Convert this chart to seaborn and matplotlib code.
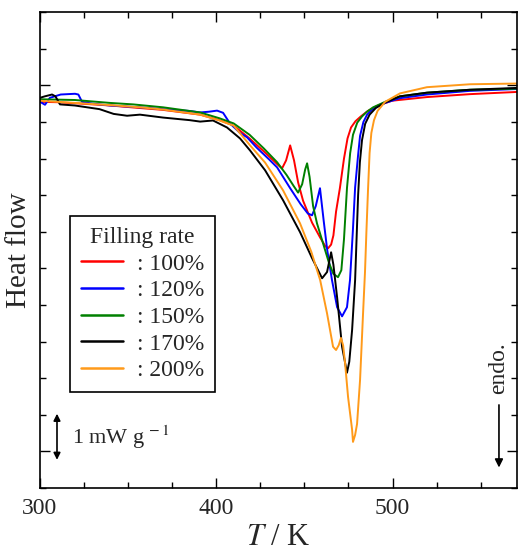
import numpy as np
import pandas as pd
import seaborn as sns
import matplotlib.pyplot as plt
from matplotlib.ticker import MultipleLocator
from matplotlib.lines import Line2D

# DSC traces (T in K, heat flow in arbitrary offset units)
T_100 = [300.3, 310, 324, 340, 357, 370, 391, 402, 410, 419, 427, 434.6, 437.4, 439.7, 442, 444.2,
         446.5, 449.3, 454.4, 458.9, 462, 463.5, 465.2, 466.5, 468, 470.2, 472.5, 474.5, 476.5,
         479, 482, 486, 491.8, 499.7, 519.5, 543.9, 570.5]
HF_100 = [9.55, 9.54, 9.50, 9.45, 9.38, 9.33, 9.20, 9.05, 8.90, 8.55, 8.20, 7.85, 7.73, 7.95, 8.36, 7.95,
          7.35, 6.85, 6.25, 5.85, 5.60, 5.55, 5.65, 5.90, 6.55, 7.20, 8.00, 8.55, 8.85,
          9.02, 9.15, 9.30, 9.45, 9.58, 9.68, 9.76, 9.82]

T_120 = [300.3, 303.1, 305.9, 312, 320.1, 322, 324.1, 330, 340, 357, 370, 385, 391, 396, 400.6, 404,
         407.9, 413.6, 417.6, 423, 430, 434.6, 442, 448, 452, 454.4, 456.5, 458.9, 461, 463, 465.7,
         468.6, 471.4, 474.2, 475.9, 477.5, 478.8, 480.5, 481.6, 483.5, 485.6, 488, 491, 495.8, 504.2,
         519.5, 543.9, 570.5]
HF_120 = [9.55, 9.47, 9.66, 9.75, 9.77, 9.75, 9.55, 9.50, 9.45, 9.40, 9.35, 9.30, 9.26, 9.28, 9.31, 9.25,
          8.96, 8.70, 8.58, 8.30, 7.98, 7.76, 7.19, 6.75, 6.50, 6.45, 6.70, 7.19, 6.30, 5.50, 4.68,
          3.94, 3.69, 3.94, 4.68, 6.00, 7.21, 8.10, 8.62, 9.00, 9.20, 9.32, 9.42, 9.52, 9.65,
          9.75, 9.85, 9.90]

T_150 = [300.3, 320, 340, 353, 370, 391, 402, 410, 419, 427, 434.6, 440, 444, 446.5, 448.8, 450.5,
         451.6, 453, 455, 457.2, 460.6, 464, 466.5, 469.1, 471, 472.5, 474.2, 476, 477.6, 480, 482.7,
         485.5, 489, 495.8, 504.2, 519.5, 543.9, 570.5]
HF_150 = [9.62, 9.60, 9.52, 9.48, 9.40, 9.26, 9.10, 8.96, 8.65, 8.28, 7.90, 7.55, 7.25, 7.07, 7.30, 7.70,
          7.87, 7.50, 6.70, 6.23, 5.69, 5.15, 4.85, 4.76, 4.95, 5.80, 7.20, 8.15, 8.65, 8.98, 9.15,
          9.28, 9.40, 9.55, 9.70, 9.80, 9.88, 9.91]

T_170 = [300.3, 303, 307.1, 309, 311.6, 320, 334, 342, 349.6, 356.9, 370, 385, 391, 398.3, 406.2,
         413.6, 419.3, 427.8, 438, 447.6, 454.4, 460.1, 462.9, 465.2, 466.5, 468.6, 471.4, 474.2,
         475.5, 477.1, 478.8, 480.5, 481.5, 482.7, 484.5, 487, 490.5, 495.8, 504.2, 519.5, 543.9, 570.5]
HF_170 = [9.66, 9.70, 9.75, 9.70, 9.48, 9.45, 9.35, 9.22, 9.17, 9.20, 9.12, 9.05, 9.01, 9.04, 8.85,
          8.55, 8.22, 7.68, 6.86, 5.99, 5.28, 4.73, 4.90, 5.44, 5.10, 4.21, 2.86, 2.15,
          2.45, 3.32, 4.68, 7.00, 7.90, 8.50, 8.95, 9.20, 9.38, 9.53, 9.70, 9.80, 9.88, 9.93]

T_200 = [300.3, 320, 340, 357, 370, 391, 402, 410, 419.3, 427.8, 438, 447.6, 454, 459, 462.9, 466.3,
         468, 469.5, 470.8, 472, 473.1, 474.8, 477.1, 477.6, 478.8, 479.9, 481.6, 483.3, 484.4, 485.2,
         486.1, 487, 488, 489.5, 491.5, 495.8, 504.2, 519.5, 543.9, 570.5]
HF_200 = [9.58, 9.52, 9.46, 9.40, 9.34, 9.20, 9.04, 8.90, 8.36, 7.89, 7.13, 6.23, 5.45, 4.68, 3.77, 2.86,
          2.77, 2.90, 3.10, 2.90, 2.42, 1.49, 0.59, 0.26, 0.45, 0.75, 1.95, 3.77, 4.90, 6.00,
          7.13, 8.15, 8.70, 9.05, 9.30, 9.55, 9.78, 9.95, 10.03, 10.05]

LABELS = [": 100%", ": 120%", ": 150%", ": 170%", ": 200%"]
COLORS = ["#ff0000", "#0000ff", "#008000", "#000000", "#ff9a1a"]

series = [(T_100, HF_100), (T_120, HF_120), (T_150, HF_150), (T_170, HF_170), (T_200, HF_200)]
frames = []
for lab, (t, hf) in zip(LABELS, series):
    frames.append(pd.DataFrame({"T": t, "hf": hf, "rate": lab}))
df = pd.concat(frames, ignore_index=True)

sns.set_theme(style="ticks")
plt.rcParams["font.family"] = ["Liberation Serif", "DejaVu Serif"]
plt.rcParams["mathtext.fontset"] = "stix"

fig = plt.figure(figsize=(5.18, 5.52), dpi=100)
ax = fig.add_axes([0.0763, 0.1159, 0.9217, 0.8621])

sns.lineplot(data=df, x="T", y="hf", hue="rate", palette=dict(zip(LABELS, COLORS)),
             sort=False, estimator=None, linewidth=1.4, ax=ax, legend=False)

ax.set_xlim(300, 570.5)
ax.set_ylim(-1, 12)
ax.xaxis.set_major_locator(MultipleLocator(100))
ax.xaxis.set_minor_locator(MultipleLocator(25))
ax.yaxis.set_major_locator(MultipleLocator(10))
ax.yaxis.set_minor_locator(MultipleLocator(1))
ax.tick_params(which="both", direction="in", top=True, right=True, width=1.0, color="black")
ax.tick_params(which="major", length=7)
ax.tick_params(which="minor", length=4)
ax.tick_params(axis="x", labelsize=17, pad=7)
ax.set_yticklabels([])
for sp in ax.spines.values():
    sp.set_linewidth(1.2)
    sp.set_color("black")

ax.set_xlabel("$T$ / K", fontsize=22, labelpad=3)
ax.set_ylabel("Heat flow", fontsize=21, labelpad=2)

handles = [Line2D([], [], color=c, lw=1.8) for c in COLORS]
leg = ax.legend(handles, LABELS, title="Filling rate", loc="lower left",
                bbox_to_anchor=(0.064, 0.2017), fontsize=17, title_fontsize=17,
                frameon=True, fancybox=False, edgecolor="black", framealpha=1,
                handlelength=1.8, handletextpad=0.6, labelspacing=0.22,
                borderpad=0.45, borderaxespad=0)
leg.get_frame().set_linewidth(1.2)

# scale bar
ax.annotate("", xy=(309.9, -0.23), xytext=(309.9, 1.03),
            arrowprops=dict(arrowstyle="<|-|>", color="black", lw=1.2,
                            mutation_scale=10, shrinkA=0, shrinkB=0))
ax.text(318.4, 0.4, "1 mW g$^{\\,-1}$", fontsize=16, va="center", ha="left")

# endo arrow
ax.annotate("", xy=(560.3, -0.44), xytext=(560.3, 1.27),
            arrowprops=dict(arrowstyle="-|>", color="black", lw=1.2,
                            mutation_scale=12, shrinkA=0, shrinkB=0))
ax.text(560.3, 2.28, "endo.", fontsize=17, rotation=90, va="center", ha="center")

fig.savefig("out.png", dpi=100)
